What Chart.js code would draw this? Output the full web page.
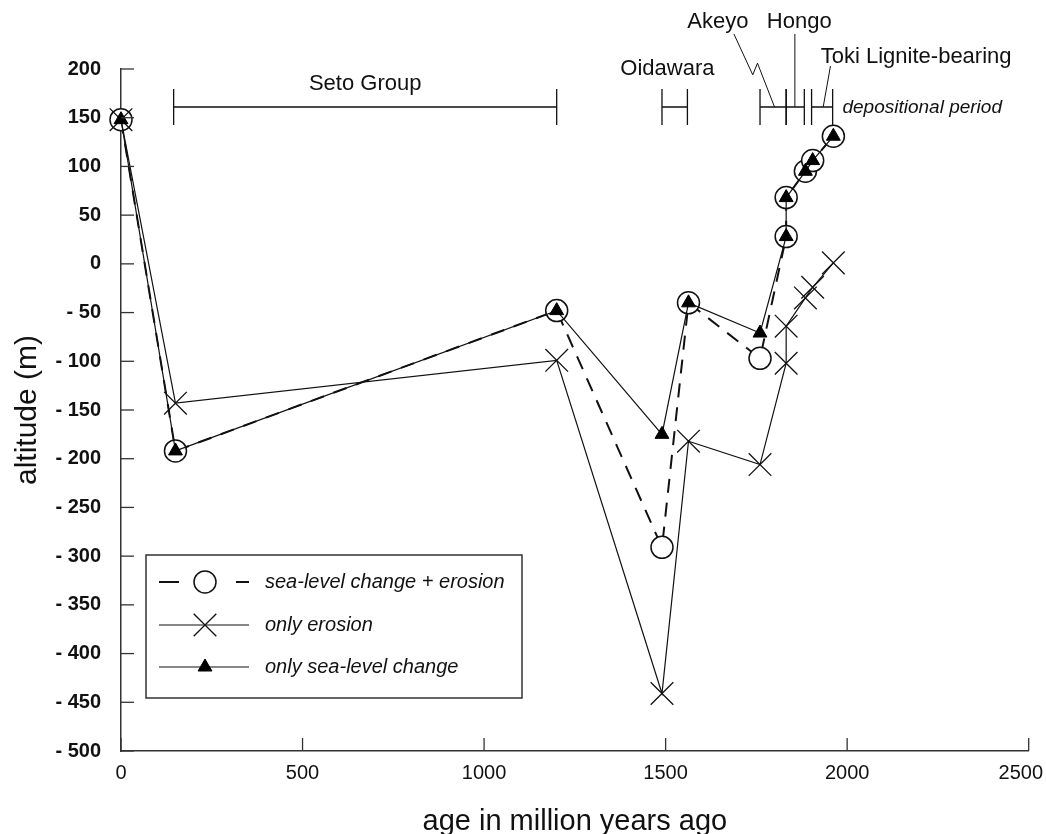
<!DOCTYPE html>
<html>
<head>
<meta charset="utf-8">
<script src="https://cdn.jsdelivr.net/npm/chart.js@4.4.1/dist/chart.umd.min.js"></script>
<style>
  html, body { margin: 0; padding: 0; background: #fff; }
  #wrap { width: 1046px; height: 834px; }
</style>
</head>
<body>
<div id="wrap"><canvas id="c" width="1046" height="834"></canvas></div>
<script>
/* Altitude history: three scenarios plotted against age, with depositional
   periods marked as range bars along the top of the plot. */
const AGES        = [0, 150, 1200, 1490, 1563, 1760, 1832, 1832, 1885, 1905, 1962];
const SEA_EROSION = [148, -192, -48, -291, -40, -97, 28, 68, 95, 106, 131];
const EROSION     = [148, -143, -99, -441, -182, -206, -102, -64, -35, -24, 1];
const SEA_ONLY    = [148, -192, -48, -175, -40, -71, 28, 68, 95, 106, 131];
const SERIES_NAMES = ["sea-level change + erosion", "only erosion", "only sea-level change"];

const X_TICKS = [0, 500, 1000, 1500, 2000, 2500];

const PERIOD_NAMES = ["Seto Group", "Oidawara", "Akeyo", "Hongo", "Toki Lignite-bearing"];
const PERIOD_START = [145, 1490, 1760, 1832, 1902];
const PERIOD_END   = [1200, 1560, 1832, 1882, 1960];

const INK = "#111";
const AXIS = "#333";
const FONT = "'Liberation Sans', Arial, Helvetica, sans-serif";
const pts = ys => AGES.map((x, i) => ({ x, y: ys[i] }));
const yLabel = v => (v < 0 ? "- " + Math.abs(v) : String(v));

// where each period label / leader sits (data units; layout only)
const LABEL_AT = [
  { x: null, y: 185 },   // centred over its bar
  { x: 1505, y: 200 },
  { x: 1644, y: 248 },
  { x: 1868, y: 248 },
  { x: 2190, y: 212 },
];
const LEADERS = [
  null, null,
  [[1688, 236], [1740, 194], [1753, 206], [1800, 161]],
  [[1856, 236], [1856, 161]],
  [[1954, 203], [1934, 161]],
];
const BAR_Y = 161;

const extras = {
  id: "extras",
  afterDraw(chart) {
    const { ctx, chartArea: a, scales: { x, y } } = chart;
    ctx.save();

    // inward tick marks
    ctx.strokeStyle = AXIS; ctx.lineWidth = 1.3;
    x.ticks.forEach((t, i) => {
      const px = x.getPixelForTick(i);
      ctx.beginPath(); ctx.moveTo(px, a.bottom); ctx.lineTo(px, a.bottom - 13); ctx.stroke();
    });
    y.ticks.forEach((t, i) => {
      const py = y.getPixelForTick(i);
      ctx.beginPath(); ctx.moveTo(a.left, py); ctx.lineTo(a.left + 13, py); ctx.stroke();
    });

    // x tick labels, last one kept inside the canvas
    ctx.font = "20px " + FONT; ctx.fillStyle = INK;
    ctx.textAlign = "center"; ctx.textBaseline = "middle";
    x.ticks.forEach((t, i) => {
      const s = String(t.value), w = ctx.measureText(s).width;
      const px = Math.min(x.getPixelForTick(i), chart.width - w / 2 - 3);
      ctx.fillText(s, px, a.bottom + 22);
    });

    // depositional period bars
    ctx.strokeStyle = INK; ctx.lineWidth = 1.3;
    const by = y.getPixelForValue(BAR_Y);
    PERIOD_NAMES.forEach((name, i) => {
      const x0 = x.getPixelForValue(PERIOD_START[i]), x1 = x.getPixelForValue(PERIOD_END[i]);
      ctx.beginPath();
      ctx.moveTo(x0, by); ctx.lineTo(x1, by);
      ctx.moveTo(x0, by - 18); ctx.lineTo(x0, by + 18);
      ctx.moveTo(x1, by - 18); ctx.lineTo(x1, by + 18);
      ctx.stroke();
      const L = LABEL_AT[i];
      const lx = L.x == null ? (x0 + x1) / 2 : x.getPixelForValue(L.x);
      ctx.font = "22px " + FONT; ctx.fillStyle = INK; ctx.textAlign = "center";
      ctx.fillText(name, lx, y.getPixelForValue(L.y));
      if (LEADERS[i]) {
        ctx.lineWidth = 1;
        ctx.beginPath();
        LEADERS[i].forEach(([vx, vy], k) => {
          const px = x.getPixelForValue(vx), py = y.getPixelForValue(vy);
          k ? ctx.lineTo(px, py) : ctx.moveTo(px, py);
        });
        ctx.stroke();
        ctx.lineWidth = 1.3;
      }
    });
    ctx.font = "italic 19px " + FONT; ctx.textAlign = "left";
    ctx.fillText("depositional period", x.getPixelForValue(1987), by + 1);

    // legend box
    const lx = a.left + 25, lt = a.bottom - 196, lw = 376, lh = 143;
    ctx.fillStyle = "#fff"; ctx.fillRect(lx, lt, lw, lh);
    ctx.strokeStyle = AXIS; ctx.lineWidth = 1.5; ctx.strokeRect(lx, lt, lw, lh);
    const rows = [27, 70, 112];
    chart.data.datasets.forEach((ds, i) => {
      const ry = lt + rows[i], s0 = lx + 13, s1 = lx + 103, mx = lx + 59;
      ctx.strokeStyle = INK; ctx.lineWidth = ds.borderWidth;
      ctx.beginPath();
      if (ds.borderDash) {
        ctx.moveTo(s0, ry); ctx.lineTo(s0 + 20, ry);
        ctx.moveTo(s1 - 13, ry); ctx.lineTo(s1, ry);
      } else {
        ctx.moveTo(s0, ry); ctx.lineTo(s1, ry);
      }
      ctx.stroke();
      ctx.fillStyle = ds.pointBackgroundColor || "#fff";
      ctx.strokeStyle = ds.pointBorderColor; ctx.lineWidth = ds.pointBorderWidth;
      Chart.helpers.drawPoint(ctx, { pointStyle: ds.pointStyle, radius: ds.pointRadius,
        rotation: 0, borderWidth: ds.pointBorderWidth }, mx, ry);
      ctx.fillStyle = INK; ctx.font = "italic 20px " + FONT;
      ctx.textAlign = "left"; ctx.textBaseline = "middle";
      ctx.fillText(ds.label, lx + 119, ry);
    });

    ctx.restore();
  },
};

new Chart(document.getElementById("c"), {
  type: "scatter",
  data: {
    datasets: [
      { label: SERIES_NAMES[0], data: pts(SEA_EROSION), showLine: true,
        borderColor: INK, borderWidth: 2, borderDash: [14, 10],
        pointStyle: "circle", pointRadius: 11, pointBackgroundColor: "#fff",
        pointBorderColor: INK, pointBorderWidth: 1.5, order: 3, clip: false },
      { label: SERIES_NAMES[1], data: pts(EROSION), showLine: true,
        borderColor: INK, borderWidth: 1.2,
        pointStyle: "crossRot", pointRadius: 16, pointBackgroundColor: "rgba(0,0,0,0)",
        pointBorderColor: INK, pointBorderWidth: 1.3, order: 2, clip: false },
      { label: SERIES_NAMES[2], data: pts(SEA_ONLY), showLine: true,
        borderColor: INK, borderWidth: 1.2,
        pointStyle: "triangle", pointRadius: 8, pointBackgroundColor: "#000",
        pointBorderColor: "#000", pointBorderWidth: 1, order: 1, clip: false },
    ],
  },
  options: {
    responsive: false, animation: false, events: [],
    layout: { padding: { top: 69, right: 14, left: 0, bottom: 0 } },
    plugins: { legend: { display: false }, tooltip: { enabled: false } },
    scales: {
      x: {
        type: "linear", min: 0, max: 2500,
        afterBuildTicks: s => { s.ticks = X_TICKS.map(v => ({ value: v })); },
        grid: { display: false, drawTicks: false },
        border: { display: true, color: AXIS, width: 1.5 },
        ticks: { display: false },
        title: { display: true, text: "age in million years ago", color: INK, padding: 0,
                 font: { family: FONT, size: 29, lineHeight: 0.85 } },
        afterFit: s => { s.height = 83; },
      },
      y: {
        type: "linear", min: -500, max: 200,
        grid: { display: false, drawTicks: false },
        border: { display: true, color: AXIS, width: 1.5 },
        ticks: { stepSize: 50, autoSkip: false, callback: yLabel, color: INK, padding: 20,
                 font: { family: FONT, size: 20, weight: "bold" } },
        title: { display: true, text: "altitude (m)", color: INK, padding: { top: 10, bottom: 0 },
                 font: { family: FONT, size: 30, lineHeight: 1.2 } },
        afterFit: s => { s.width = 121; },
      },
    },
  },
  plugins: [extras],
});
</script>
</body>
</html>
